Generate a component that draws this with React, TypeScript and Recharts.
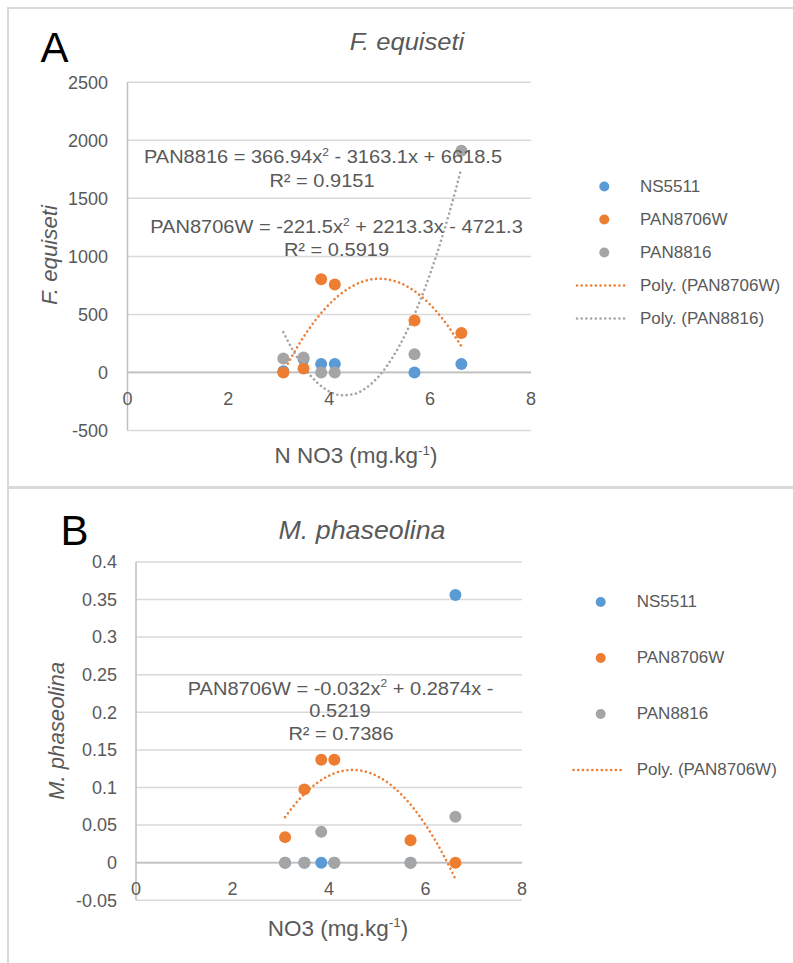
import React from 'react';
import { ComposedChart, Scatter, Line, XAxis, YAxis, CartesianGrid, ReferenceLine, Legend } from 'recharts';

// ---------- data ----------
const no3 = [3.09, 3.49, 3.84, 4.11, 5.69, 6.62];

const ns5511A = [10, 116, 73, 73, 0, 73];
const pan8706wA = [0, 35, 803, 757, 448, 341];
const pan8816A = [121, 130, 0, 0, 156, 1911];

const ns5511B = [0, 0, 0, 0, 0, 0.356];
const pan8706wB = [0.034, 0.0975, 0.137, 0.137, 0.0297, 0];
const pan8816B = [0, 0, 0.041, 0, 0, 0.061];

// trendline samples
const trendX = [3.09, 3.25, 3.5, 3.75, 4, 4.25, 4.5, 4.75, 5, 5.25, 5.5, 5.75, 6, 6.25, 6.5, 6.62];
const trend8706wA = [3, 132, 312, 464, 588, 684, 753, 794, 808, 793, 752, 682, 585, 460, 307, 224];
const trend8816A = [348, 214, 43, -83, -163, -197, -185, -127, -24, 126, 321, 563, 850, 1183, 1562, 1760];
const trend8706wB = [0.0606, 0.0742, 0.092, 0.1059, 0.1157, 0.1216, 0.1234, 0.1213, 0.1151, 0.105, 0.0908, 0.0727, 0.0505, 0.0244, -0.0058, -0.0217];

const xTicks = [0, 2, 4, 6, 8];
const yTicksA = [-500, 0, 500, 1000, 1500, 2000, 2500];
const yTicksB = [-0.05, 0, 0.05, 0.1, 0.15, 0.2, 0.25, 0.3, 0.35, 0.4];

const seriesNames = ['NS5511', 'PAN8706W', 'PAN8816'];
const trendNames = ['Poly. (PAN8706W)', 'Poly. (PAN8816)'];

// ---------- styles ----------
const FONT = '"Liberation Sans", Arial, sans-serif';
const BLUE = '#5B9BD5';
const ORANGE = '#ED7D31';
const GRAY = '#A5A5A5';
const TXT = '#595959';
const GRID = '#D9D9D9';
const AXIS = '#BFBFBF';
const DASH = '0.01 4.7';
const DOTW = 2.6;
const SX = 1.06;

const pts = (xs: number[], ys: number[]) => xs.map((x, i) => ({ x, y: ys[i] }));

const dotShape = (color: string) => (props: any) =>
  props.cx == null ? <g /> : <circle cx={props.cx} cy={props.cy} r={6} fill={color} />;

const makeXTick = (zeroY: number) => (props: any) => {
  const { x, payload } = props;
  return (
    <text x={x} y={zeroY + 26.5} textAnchor="middle" dominantBaseline="central" fill={TXT} fontSize={18} fontFamily={FONT}>
      {payload.value}
    </text>
  );
};

type LegendItem = { name: string; kind: 'dot' | 'line'; color: string };

const LegendBox = ({ items, rowH, markerX, textX, lineX1, lineX2 }: { items: LegendItem[]; rowH: number; markerX: number; textX: number; lineX1: number; lineX2: number }) => (
  <div style={{ position: 'relative', fontFamily: FONT, fontSize: 17, color: TXT }}>
    {items.map((it, i) => (
      <div key={i} style={{ position: 'relative', height: rowH }}>
        <svg width={textX} height={rowH} style={{ position: 'absolute', left: 0, top: 0 }}>
          {it.kind === 'dot' ? (
            <circle cx={markerX} cy={rowH / 2} r={5} fill={it.color} />
          ) : (
            <line x1={lineX1} x2={lineX2} y1={rowH / 2} y2={rowH / 2} stroke={it.color} strokeWidth={DOTW} strokeLinecap="round" strokeDasharray={DASH} />
          )}
        </svg>
        <span style={{ position: 'absolute', left: textX, top: 0, lineHeight: rowH + 'px', whiteSpace: 'nowrap' }}>{it.name}</span>
      </div>
    ))}
  </div>
);

const legendA: LegendItem[] = [
  { name: seriesNames[0], kind: 'dot', color: BLUE },
  { name: seriesNames[1], kind: 'dot', color: ORANGE },
  { name: seriesNames[2], kind: 'dot', color: GRAY },
  { name: trendNames[0], kind: 'line', color: ORANGE },
  { name: trendNames[1], kind: 'line', color: GRAY },
];
const legendB: LegendItem[] = [
  { name: seriesNames[0], kind: 'dot', color: BLUE },
  { name: seriesNames[1], kind: 'dot', color: ORANGE },
  { name: seriesNames[2], kind: 'dot', color: GRAY },
  { name: trendNames[0], kind: 'line', color: ORANGE },
];

// ---------- layout ----------
const W = 793;
const A = { h: 487, top: 82.3, bottom: 430.5, left: 127.5, right: 531 };
const B = { pageTop: 487, h: 476, top: 74.9, bottom: 413.3, left: 136, right: 522 };
const zeroA = A.top + (A.bottom - A.top) * (2500 / 3000);
const zeroB = B.top + (B.bottom - B.top) * (0.4 / 0.45);

// ---------- overlay text helpers ----------
const T = ({ x, y, size, sx = SX, anchor = 'middle', italic = false, rotate = 0, color = TXT, children }: any) => (
  <g transform={`translate(${x},${y})${rotate ? ` rotate(${rotate})` : ''} scale(${sx},1)`}>
    <text x={0} y={0} textAnchor={anchor} fontSize={size} fontStyle={italic ? 'italic' : 'normal'} fill={color} fontFamily={FONT}>
      {children}
    </text>
  </g>
);

// text with a superscript in the middle: before + sup + after
const SupText = ({ x, y, size, before, sup, after }: { x: number; y: number; size: number; before: string; sup: string; after: string }) => (
  <T x={x} y={y} size={size}>
    <tspan>{before}</tspan>
    <tspan fontSize={size * 0.6} dy={-size * 0.4}>{sup}</tspan>
    <tspan dy={size * 0.4}>{after}</tspan>
  </T>
);

const EQ = 18.9;

const trendProps = (color: string) => ({
  type: 'monotone' as const,
  dataKey: 'y',
  stroke: color,
  strokeWidth: DOTW,
  strokeLinecap: 'round' as const,
  strokeDasharray: DASH,
  dot: false,
  activeDot: false,
  isAnimationActive: false,
});

export default function App() {
  return (
    <div style={{ position: 'absolute', left: 0, top: 0, width: W, height: 963, background: '#fff', overflow: 'hidden' }}>
      {/* frames */}
      <div style={{ position: 'absolute', left: 7, top: 6.5, width: 786, height: 2, background: GRID }} />
      <div style={{ position: 'absolute', left: 7, top: 6.5, width: 2, height: 957, background: GRID }} />
      <div style={{ position: 'absolute', left: 7, top: 486, width: 786, height: 3, background: GRID }} />

      {/* Chart A */}
      <div style={{ position: 'absolute', left: 0, top: 0 }}>
        <ComposedChart
          width={W}
          height={A.h}
          margin={{ top: A.top, right: W - A.right, bottom: A.h - A.bottom - 30, left: A.left - 60 }}
        >
          <CartesianGrid vertical={false} stroke={GRID} strokeWidth={1.5} />
          <XAxis type="number" dataKey="x" domain={[0, 8]} ticks={xTicks} interval={0} axisLine={false} tickLine={false} height={30} tick={makeXTick(zeroA)} />
          <YAxis type="number" dataKey="y" domain={[-500, 2500]} ticks={yTicksA} interval={0} width={60} tickSize={0} tickMargin={19.5} tickLine={false} axisLine={{ stroke: AXIS, strokeWidth: 1.5 }} tick={{ fill: TXT, fontSize: 18, fontFamily: FONT }} />
          <ReferenceLine y={0} stroke={AXIS} strokeWidth={1.8} />
          <Scatter name={seriesNames[0]} data={pts(no3, ns5511A)} fill={BLUE} shape={dotShape(BLUE)} isAnimationActive={false} />
          <Scatter name={seriesNames[1]} data={pts(no3, pan8706wA)} fill={ORANGE} shape={dotShape(ORANGE)} isAnimationActive={false} />
          <Scatter name={seriesNames[2]} data={pts(no3, pan8816A)} fill={GRAY} shape={dotShape(GRAY)} isAnimationActive={false} />
          <Line name={trendNames[0]} data={pts(trendX, trend8706wA)} {...trendProps(ORANGE)} />
          <Line name={trendNames[1]} data={pts(trendX, trend8816A)} {...trendProps(GRAY)} />
          <Legend
            layout="vertical"
            align="center"
            verticalAlign="middle"
            wrapperStyle={{ left: 565, top: 170.2, width: 225, height: 165 }}
            content={() => <LegendBox items={legendA} rowH={33} markerX={39.3} textX={75} lineX1={12} lineX2={63} />}
          />
        </ComposedChart>
      </div>

      {/* Chart B */}
      <div style={{ position: 'absolute', left: 0, top: B.pageTop }}>
        <ComposedChart
          width={W}
          height={B.h}
          margin={{ top: B.top, right: W - B.right, bottom: B.h - B.bottom - 30, left: B.left - 60 }}
        >
          <CartesianGrid vertical={false} stroke={GRID} strokeWidth={1.5} />
          <XAxis type="number" dataKey="x" domain={[0, 8]} ticks={xTicks} interval={0} axisLine={false} tickLine={false} height={30} tick={makeXTick(zeroB)} />
          <YAxis type="number" dataKey="y" domain={[-0.05, 0.4]} ticks={yTicksB} interval={0} width={60} tickSize={0} tickMargin={19} tickLine={false} axisLine={{ stroke: AXIS, strokeWidth: 1.5 }} tick={{ fill: TXT, fontSize: 18, fontFamily: FONT }} />
          <ReferenceLine y={0} stroke={AXIS} strokeWidth={1.8} />
          <Scatter name={seriesNames[0]} data={pts(no3, ns5511B)} fill={BLUE} shape={dotShape(BLUE)} isAnimationActive={false} />
          <Scatter name={seriesNames[1]} data={pts(no3, pan8706wB)} fill={ORANGE} shape={dotShape(ORANGE)} isAnimationActive={false} />
          <Scatter name={seriesNames[2]} data={pts(no3, pan8816B)} fill={GRAY} shape={dotShape(GRAY)} isAnimationActive={false} />
          <Line name={trendNames[0]} data={pts(trendX, trend8706wB)} {...trendProps(ORANGE)} />
          <Legend
            layout="vertical"
            align="center"
            verticalAlign="middle"
            wrapperStyle={{ left: 565, top: 86.7, width: 225, height: 225 }}
            content={() => <LegendBox items={legendB} rowH={56} markerX={35.7} textX={71.7} lineX1={8.5} lineX2={56} />}
          />
        </ComposedChart>
      </div>

      {/* text overlay */}
      <svg width={W} height={963} style={{ position: 'absolute', left: 0, top: 0, pointerEvents: 'none' }}>
        <T x={40.5} y={62.3} size={42} sx={1} anchor="start" color="#000">A</T>
        <T x={60.5} y={545} size={42} sx={1} anchor="start" color="#000">B</T>

        <T x={407} y={50} size={24.1} italic>F. equiseti</T>
        <T x={362} y={538.5} size={25.3} italic>M. phaseolina</T>

        <T x={57} y={255} size={22.3} sx={1} italic rotate={-90}>F. equiseti</T>
        <T x={64} y={731} size={22.2} sx={1} italic rotate={-90}>M. phaseolina</T>

        <SupText x={356} y={463} size={21.2} before="N NO3 (mg.kg" sup="-1" after=")" />
        <SupText x={338} y={935.5} size={21.2} before="NO3 (mg.kg" sup="-1" after=")" />

        <SupText x={323} y={163.3} size={EQ} before="PAN8816 = 366.94x" sup="2" after=" - 3163.1x + 6618.5" />
        <T x={322} y={186.7} size={EQ}>R² = 0.9151</T>
        <SupText x={336.5} y={233.3} size={EQ} before="PAN8706W = -221.5x" sup="2" after=" + 2213.3x - 4721.3" />
        <T x={336.5} y={255.5} size={EQ}>R² = 0.5919</T>

        <SupText x={340.6} y={695} size={EQ} before="PAN8706W = -0.032x" sup="2" after=" + 0.2874x -" />
        <T x={340} y={716.7} size={EQ}>0.5219</T>
        <T x={341} y={740} size={EQ}>R² = 0.7386</T>
      </svg>
    </div>
  );
}
